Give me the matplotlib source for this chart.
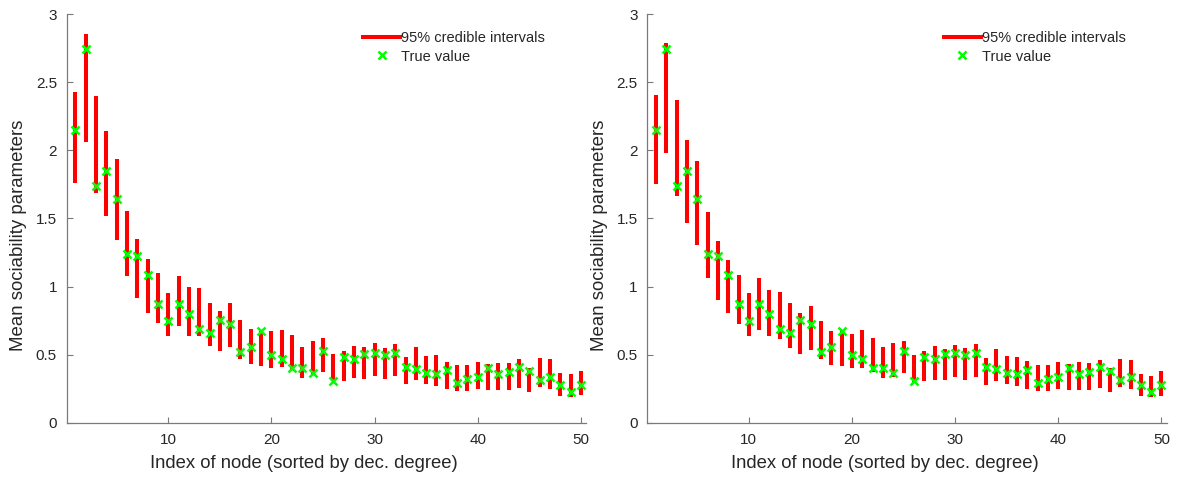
import matplotlib
matplotlib.use("Agg")
import matplotlib.pyplot as plt
from matplotlib.lines import Line2D
import numpy as np

plt.rcParams['font.family'] = ['Liberation Sans', 'DejaVu Sans']

node_index = np.arange(1, 51)

true_value = [2.152, 2.746, 1.741, 1.851, 1.643, 1.237, 1.225, 1.088, 0.875, 0.746,
              0.870, 0.797, 0.692, 0.663, 0.753, 0.729, 0.521, 0.557, 0.677, 0.496,
              0.469, 0.406, 0.406, 0.364, 0.526, 0.308, 0.484, 0.467, 0.504, 0.513,
              0.499, 0.513, 0.411, 0.396, 0.366, 0.360, 0.389, 0.291, 0.323, 0.335,
              0.401, 0.359, 0.374, 0.408, 0.384, 0.315, 0.340, 0.276, 0.227, 0.281]

# 95% credible intervals, first model
lower_a = [1.760, 2.064, 1.687, 1.521, 1.345, 1.076, 0.917, 0.809, 0.733, 0.636,
           0.709, 0.641, 0.641, 0.562, 0.526, 0.555, 0.469, 0.434, 0.421, 0.401,
           0.413, 0.390, 0.333, 0.352, 0.377, 0.315, 0.308, 0.328, 0.320, 0.345,
           0.323, 0.347, 0.284, 0.315, 0.284, 0.272, 0.252, 0.237, 0.235, 0.247,
           0.240, 0.245, 0.245, 0.259, 0.230, 0.262, 0.252, 0.198, 0.188, 0.203]
upper_a = [2.430, 2.851, 2.396, 2.144, 1.939, 1.557, 1.352, 1.205, 1.100, 0.956,
           1.081, 0.998, 0.993, 0.878, 0.822, 0.878, 0.759, 0.688, 0.680, 0.672,
           0.685, 0.643, 0.560, 0.599, 0.621, 0.506, 0.528, 0.567, 0.555, 0.584,
           0.553, 0.582, 0.484, 0.560, 0.494, 0.497, 0.450, 0.423, 0.428, 0.447,
           0.435, 0.440, 0.438, 0.469, 0.401, 0.474, 0.469, 0.369, 0.357, 0.381]

# 95% credible intervals, second model
lower_b = [1.756, 1.978, 1.663, 1.467, 1.308, 1.066, 0.905, 0.807, 0.729, 0.638,
           0.685, 0.638, 0.619, 0.553, 0.506, 0.533, 0.469, 0.423, 0.421, 0.401,
           0.406, 0.377, 0.328, 0.340, 0.364, 0.298, 0.306, 0.315, 0.315, 0.340,
           0.315, 0.335, 0.279, 0.311, 0.284, 0.271, 0.252, 0.232, 0.237, 0.247,
           0.240, 0.245, 0.245, 0.254, 0.227, 0.262, 0.252, 0.198, 0.188, 0.198]
upper_b = [2.408, 2.790, 2.367, 2.073, 1.919, 1.545, 1.333, 1.193, 1.086, 0.954,
           1.061, 0.973, 0.958, 0.883, 0.809, 0.858, 0.747, 0.677, 0.682, 0.653,
           0.680, 0.626, 0.560, 0.584, 0.604, 0.499, 0.528, 0.565, 0.543, 0.575,
           0.553, 0.577, 0.474, 0.543, 0.491, 0.485, 0.457, 0.423, 0.428, 0.445,
           0.430, 0.447, 0.440, 0.462, 0.406, 0.472, 0.465, 0.359, 0.347, 0.379]

x_ticks = [10, 20, 30, 40, 50]
y_ticks = [0, 0.5, 1, 1.5, 2, 2.5, 3]
y_tick_labels = ['0', '0.5', '1', '1.5', '2', '2.5', '3']

AXIS_GRAY = '#7a7a7a'
TEXT_DARK = '#262626'

fig = plt.figure(figsize=(11.82, 4.80), dpi=100)
ax_left = fig.add_axes([0.0564, 0.1188, 0.4394, 0.8520])
ax_right = fig.add_axes([0.5476, 0.1188, 0.4394, 0.8520])


def draw_panel(ax, lower, upper):
    ax.vlines(node_index, lower, upper, colors='#ff0000', linewidth=2.9,
              capstyle='butt', zorder=2)
    ax.plot(node_index, true_value, linestyle='none', marker='x', color='#00ff00',
            markersize=6, markeredgewidth=1.8, zorder=3)
    ax.set_xlim(0.15, 50.5)
    ax.set_ylim(0, 3)
    ax.set_xticks(x_ticks)
    ax.set_yticks(y_ticks)
    ax.set_yticklabels(y_tick_labels)
    for side in ('top', 'right'):
        ax.spines[side].set_visible(False)
    for side in ('left', 'bottom'):
        ax.spines[side].set_color(AXIS_GRAY)
        ax.spines[side].set_linewidth(0.9)
    ax.tick_params(direction='in', length=4, width=0.8, color=AXIS_GRAY,
                   labelcolor=TEXT_DARK, labelsize=11)
    ax.tick_params(axis='y', pad=7)
    ax.tick_params(axis='x', pad=7)
    ax.set_xlabel('Index of node (sorted by dec. degree)', fontsize=13.3,
                  color=TEXT_DARK, labelpad=6)
    ax.set_ylabel('Mean sociability parameters', fontsize=13.4,
                  color=TEXT_DARK, labelpad=6)
    ax.xaxis.label.set_x(0.457)
    ax.yaxis.label.set_y(0.46)
    handles = [Line2D([], [], color='#ff0000', linewidth=2.9),
               Line2D([], [], linestyle='none', marker='x', color='#00ff00',
                      markersize=6, markeredgewidth=1.8)]
    leg = ax.legend(handles, ['95% credible intervals', 'True value'],
                    loc='upper left', bbox_to_anchor=(0.571, 0.958),
                    frameon=False, fontsize=10.5, handlelength=2.55,
                    handletextpad=0.05, labelspacing=0.3, borderpad=0,
                    borderaxespad=0)
    for t in leg.get_texts():
        t.set_color(TEXT_DARK)


draw_panel(ax_left, lower_a, upper_a)
draw_panel(ax_right, lower_b, upper_b)

fig.savefig('out.png', dpi=100)
